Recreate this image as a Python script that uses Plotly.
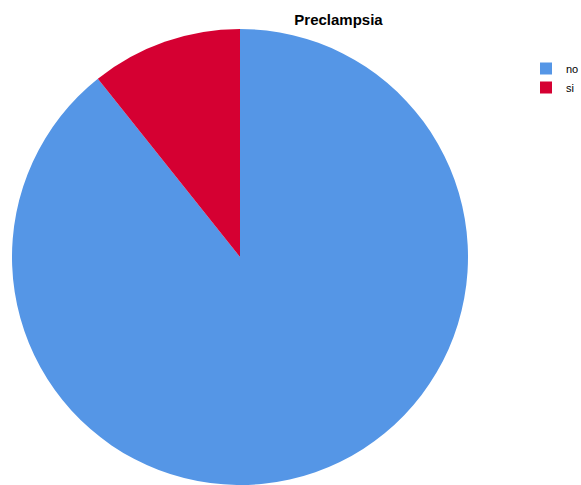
import plotly.graph_objects as go

labels = ["no", "si"]
values = [25, 3]
colors = ["#5596E6", "#D50032"]

W, H = 581, 485

fig = go.Figure(go.Pie(
    labels=labels,
    values=values,
    sort=False,
    direction="clockwise",
    rotation=0,
    textinfo="none",
    hoverinfo="label+value+percent",
    marker=dict(colors=colors, line=dict(width=0)),
    domain=dict(x=[11 / W, 469 / W], y=[0, 1 - 29 / H]),
))

fig.update_layout(
    width=W, height=H,
    margin=dict(l=0, r=0, t=0, b=0, autoexpand=False),
    paper_bgcolor="white",
    plot_bgcolor="white",
    font=dict(family="Liberation Sans, Arial, sans-serif", size=12, color="black"),
    title=dict(text="<b>Preclampsia</b>", x=338.5 / W, xanchor="center",
               y=1 - 20 / H, yanchor="middle", font=dict(size=15, color="black")),
    legend=dict(x=(566 - 40) / W, y=1 - 54 / H, xanchor="left", yanchor="top",
                font=dict(size=11, color="black"), itemwidth=30, tracegroupgap=0,
                bgcolor="rgba(0,0,0,0)"),
)

fig.write_html("out.html",
               config={"displayModeBar": False},
               post_script="document.body.style.margin='0';document.body.style.overflow='hidden';")
